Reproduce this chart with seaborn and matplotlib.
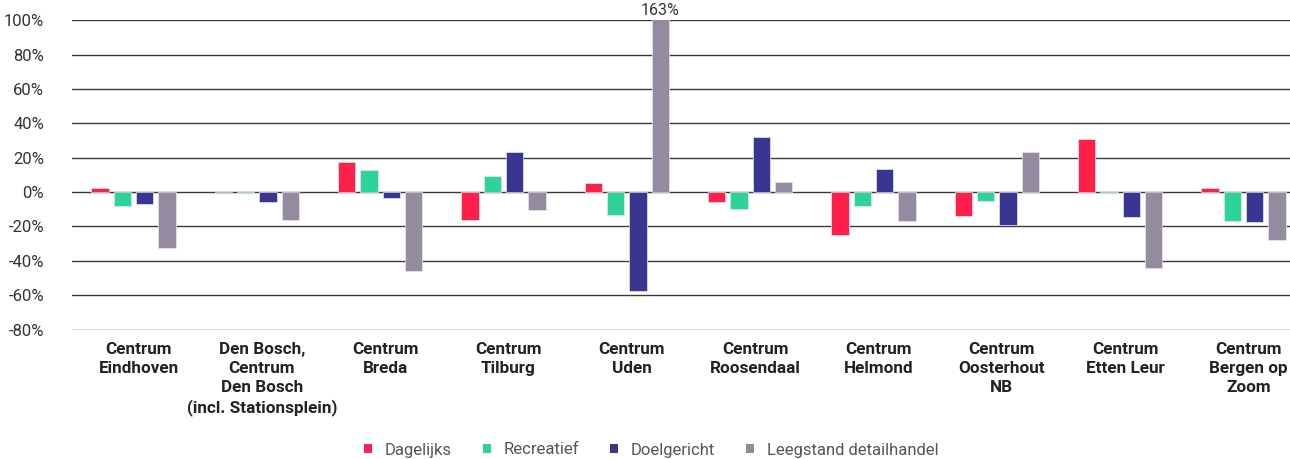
import numpy as np
import pandas as pd
import matplotlib
matplotlib.use("Agg")
import matplotlib.pyplot as plt
import matplotlib.transforms as mtransforms
from matplotlib.ticker import FuncFormatter
from matplotlib.patches import Patch
import seaborn as sns

categories = [
    "Centrum\nEindhoven",
    "Den Bosch,\nCentrum\nDen Bosch\n(incl. Stationsplein)",
    "Centrum\nBreda",
    "Centrum\nTilburg",
    "Centrum\nUden",
    "Centrum\nRoosendaal",
    "Centrum\nHelmond",
    "Centrum\nOosterhout\nNB",
    "Centrum\nEtten Leur",
    "Centrum\nBergen op\nZoom",
]
series = ["Dagelijks", "Recreatief", "Doelgericht", "Leegstand detailhandel"]

dagelijks = [2.3, -0.4, 17.3, -16.3, 5.1, -5.6, -25.0, -14.0, 30.7, 2.5]
recreatief = [-8.2, -0.4, 12.8, 9.3, -13.6, -10.1, -8.3, -5.2, -0.6, -17.1]
doelgericht = [-6.8, -5.8, -3.3, 23.1, -57.4, 32.0, 13.4, -19.2, -14.7, -17.2]
leegstand = [-32.6, -16.5, -46.0, -10.7, 163.0, 6.0, -16.9, 23.1, -44.0, -28.0]

colors = ["#FF1F4B", "#2ED397", "#3A3590", "#948BA0"]

df = pd.DataFrame({
    "categorie": categories * 4,
    "reeks": np.repeat(series, len(categories)),
    "waarde": dagelijks + recreatief + doelgericht + leegstand,
})

sns.set_theme(style="white")
plt.rcParams["font.family"] = ["Roboto", "DejaVu Sans"]

fig = plt.figure(figsize=(12.9, 4.59), dpi=100)
# plot area runs slightly past the right edge of the canvas
ax = fig.add_axes([0.0557, 0.282, 0.956, 0.674])

group_width = 0.724
sns.barplot(
    data=df, x="categorie", y="waarde", hue="reeks",
    order=categories, hue_order=series, palette=colors,
    width=group_width, gap=0.215, saturation=1.0, ax=ax, legend=False,
    edgecolor="#e6e6ee", linewidth=0.5, zorder=3,
)

ax.set_ylim(-80, 100)
ax.set_xlim(-0.5, len(categories) - 0.5)
ax.set_yticks(np.arange(-80, 101, 20))
ax.yaxis.set_major_formatter(FuncFormatter(lambda v, _: f"{v:.0f}%"))
ax.grid(axis="y", color="#3a3a3a", linewidth=1.0, zorder=0)
ax.grid(axis="x", visible=False)
for s in ax.spines.values():
    s.set_visible(False)
ax.set_xlabel("")
ax.set_ylabel("")
ax.tick_params(axis="y", length=0, pad=20, labelsize=12, labelcolor="#333333")
ax.tick_params(axis="x", length=0, pad=9, labelsize=12.3, labelcolor="#222222")
shift = mtransforms.ScaledTranslation(0.05, 0, fig.dpi_scale_trans)
for lab in ax.get_xticklabels():
    lab.set_fontweight("bold")
    lab.set_linespacing(1.32)
    lab.set_verticalalignment("top")
    lab.set_transform(lab.get_transform() + shift)

# value label for the bar that runs past the top of the axis
uden_idx = 4
bar_step = group_width / len(series)
ax.text(uden_idx + 1.5 * bar_step, 101.5, f"{leegstand[uden_idx]:.0f}%",
        ha="center", va="bottom", fontsize=11.5, color="#333333", clip_on=False)

handles = [Patch(facecolor=c, edgecolor="none") for c in colors]
fig.legend(handles, series, loc="center", bbox_to_anchor=(651 / 1290, 1 - 450 / 459),
           ncol=4, frameon=False, fontsize=12, handlelength=0.5, handleheight=0.5,
           handletextpad=0.75, columnspacing=1.85, labelcolor="#555555")

fig.savefig("out.png", dpi=100, facecolor="white")
